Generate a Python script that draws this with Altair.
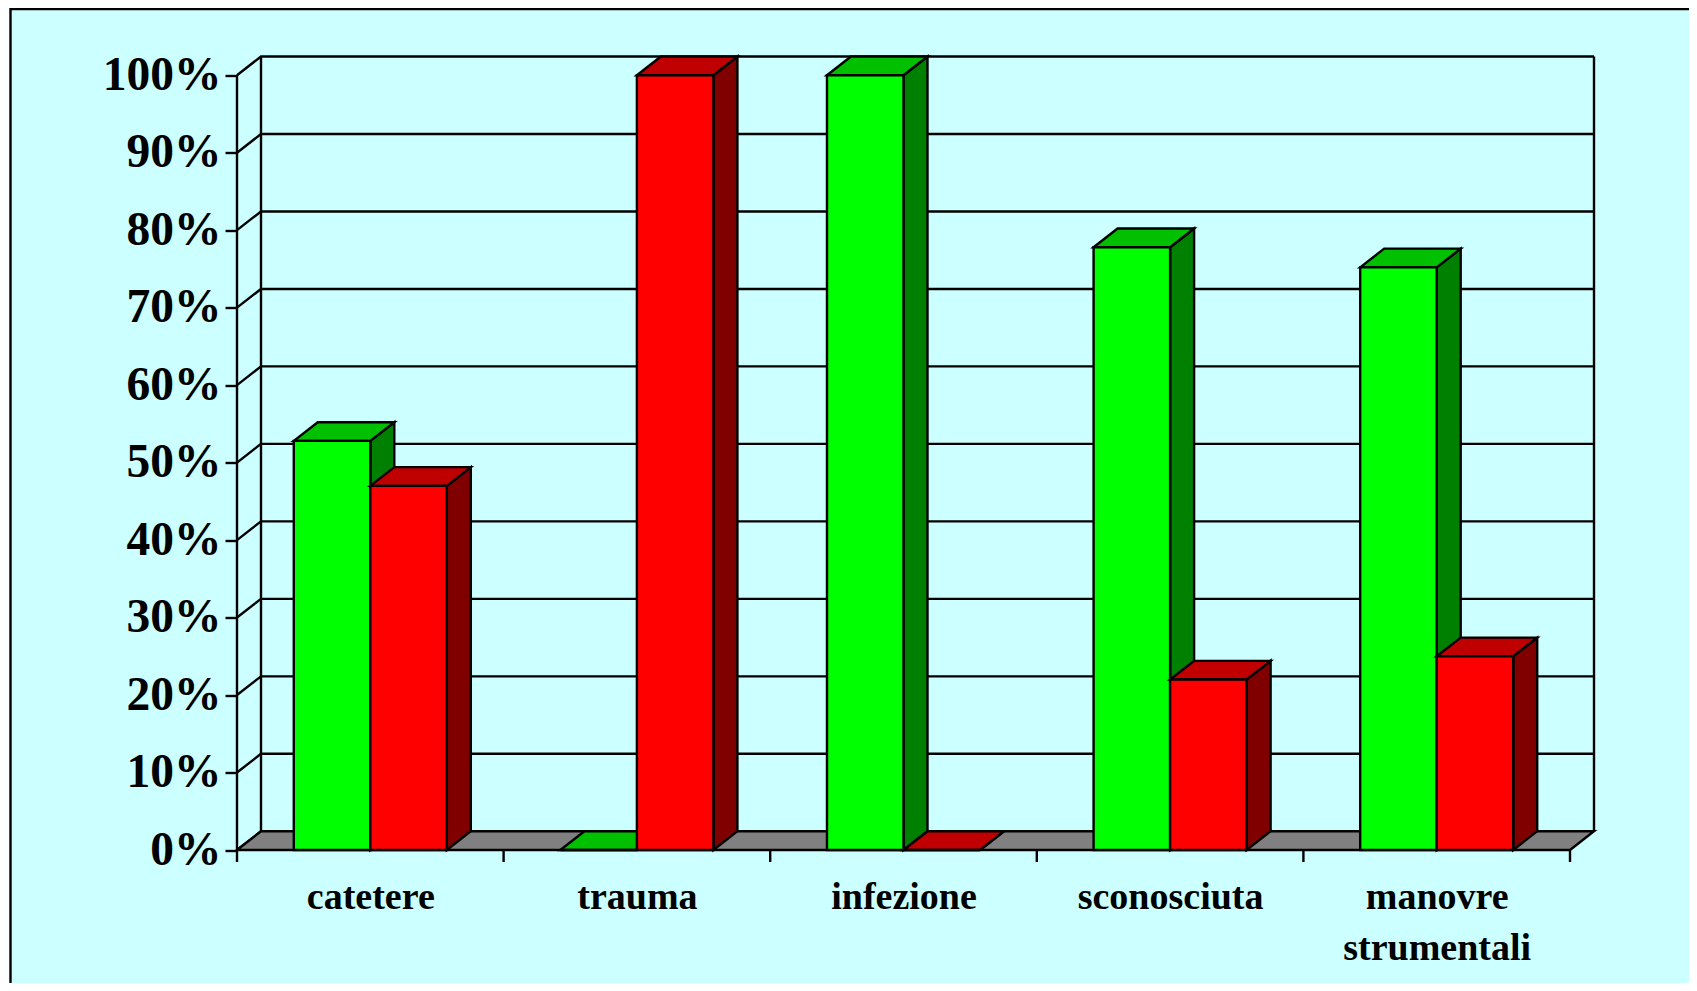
import json
import altair as alt
import pandas as pd

CATEGORIES = ["catetere", "trauma", "infezione", "sconosciuta", ["manovre", "strumentali"]]
GREEN_VALUES = [52.8, 0, 100, 77.8, 75.2]
RED_VALUES = [47.0, 100, 0, 22.0, 25.0]
Y_TICKS = list(range(0, 101, 10))
X_BOUNDARIES = [0, 1, 2, 3, 4, 5]

GREEN = ("#00FF00", "#00C000", "#008000")
RED = ("#FF0000", "#C00000", "#800000")
FLOOR = "#808080"
PANEL = "#CCFFFF"

FONT = "Liberation Serif"
PLOT_W, PLOT_H = 1357, 793.5
DEPTH_X, DEPTH_Y = 0.09, 2.416
BAR_W = 0.287
LINE = 2.4

x_scale = alt.Scale(domain=[0, 5 + DEPTH_X], nice=False, zero=False)
y_scale = alt.Scale(domain=[0, 100 + DEPTH_Y], nice=False, zero=False)
label_expr = json.dumps(CATEGORIES) + "[round(datum.value-0.5)]"
x_axis = alt.Axis(
    values=[i + 0.5 for i in range(5)], labelExpr=label_expr, title=None, domain=False, ticks=False, grid=False,
    labelFont=FONT, labelFontWeight="bold", labelFontSize=38, labelColor="black", labelPadding=28, labelLimit=500,
    labelLineHeight=51, labelOverlap=False, labelBound=False, labelFlush=False, labelAngle=0, zindex=1)
y_axis = alt.Axis(
    values=Y_TICKS, labelExpr="datum.value + '%'", title=None, domain=False, grid=False, tickSize=12, tickWidth=LINE,
    tickColor="black", labelFont=FONT, labelFontWeight="bold", labelFontSize=47.5, labelColor="black", labelLimit=500,
    labelPadding=4, labelOverlap=False, labelBound=False, labelFlush=False, zindex=1)
X = alt.X("x:Q", scale=x_scale, axis=x_axis)
Y = alt.Y("y:Q", scale=y_scale, axis=y_axis)
Y2 = alt.Y2("y2:Q")
X2 = alt.X2("x2:Q")


def top_face(x0, w, v, color):
    d = pd.DataFrame({
        "x": [x0, x0 + DEPTH_X, x0 + w, x0 + w + DEPTH_X],
        "y": [v, v + DEPTH_Y, v + DEPTH_Y, v + DEPTH_Y],
        "y2": [v, v, v, v + DEPTH_Y],
    })
    return alt.Chart(d).mark_area(color=color, stroke="black", strokeWidth=LINE, clip=False).encode(x=X, y=Y, y2=Y2)


def side_face(x1, v, color):
    d = pd.DataFrame({
        "x": [x1, x1 + DEPTH_X],
        "y": [v, v + DEPTH_Y],
        "y2": [0, DEPTH_Y],
    })
    return alt.Chart(d).mark_area(color=color, stroke="black", strokeWidth=LINE, clip=False).encode(x=X, y=Y, y2=Y2)


def front_face(x0, w, v, color):
    d = pd.DataFrame({"x": [x0], "x2": [x0 + w], "y": [v], "y2": [0]})
    return alt.Chart(d).mark_rect(color=color, stroke="black", strokeWidth=LINE, clip=False).encode(x=X, x2=X2, y=Y, y2=Y2)


def polyline(xs, ys, group):
    return pd.DataFrame({"x": xs, "y": ys, "g": group})


panel = alt.Chart(pd.DataFrame({"a": [0]})).mark_rect(fill=PANEL, stroke="black", strokeWidth=LINE, clip=False).encode(
    x=alt.value(-226.5), x2=alt.value(PLOT_W + 130),
    y=alt.value(-47.5), y2=alt.value(PLOT_H + 170),
)

grid_rows = []
for t in Y_TICKS:
    grid_rows.append(polyline([0, DEPTH_X, 5 + DEPTH_X], [t, t + DEPTH_Y, t + DEPTH_Y], f"g{t}"))
grid_rows.append(polyline([0, 0], [0, 100], "front"))
grid_rows.append(polyline([DEPTH_X, DEPTH_X], [DEPTH_Y, 100 + DEPTH_Y], "backl"))
grid_rows.append(polyline([5 + DEPTH_X, 5 + DEPTH_X], [DEPTH_Y, 100 + DEPTH_Y], "backr"))
grid = alt.Chart(pd.concat(grid_rows)).mark_line(color="black", strokeWidth=LINE, clip=False).encode(x=X, y=Y, detail="g:N")

x_ticks = alt.Chart(pd.DataFrame({"x": X_BOUNDARIES})).mark_rule(color="black", strokeWidth=LINE, clip=False).encode(
    x=X, y=alt.value(PLOT_H), y2=alt.value(PLOT_H + 12)
)

layers = [panel, grid, top_face(0, 5, 0, FLOOR), x_ticks]
for i, (g, r) in enumerate(zip(GREEN_VALUES, RED_VALUES)):
    c = i + 0.5
    for x0, v, cols in ((c - BAR_W, g, GREEN), (c, r, RED)):
        layers.append(side_face(x0 + BAR_W, v, cols[2]))
        layers.append(top_face(x0, BAR_W, v, cols[1]))
        layers.append(front_face(x0, BAR_W, v, cols[0]))

chart = alt.layer(*layers).properties(
    width=PLOT_W, height=PLOT_H,
    autosize=alt.AutoSizeParams(type="none"),
    padding={"left": 229, "top": 48.5, "right": 95, "bottom": 133},
    background="white",
).configure_view(stroke=None)

chart.save("out.html", embed_options={"renderer": "svg", "actions": False})
